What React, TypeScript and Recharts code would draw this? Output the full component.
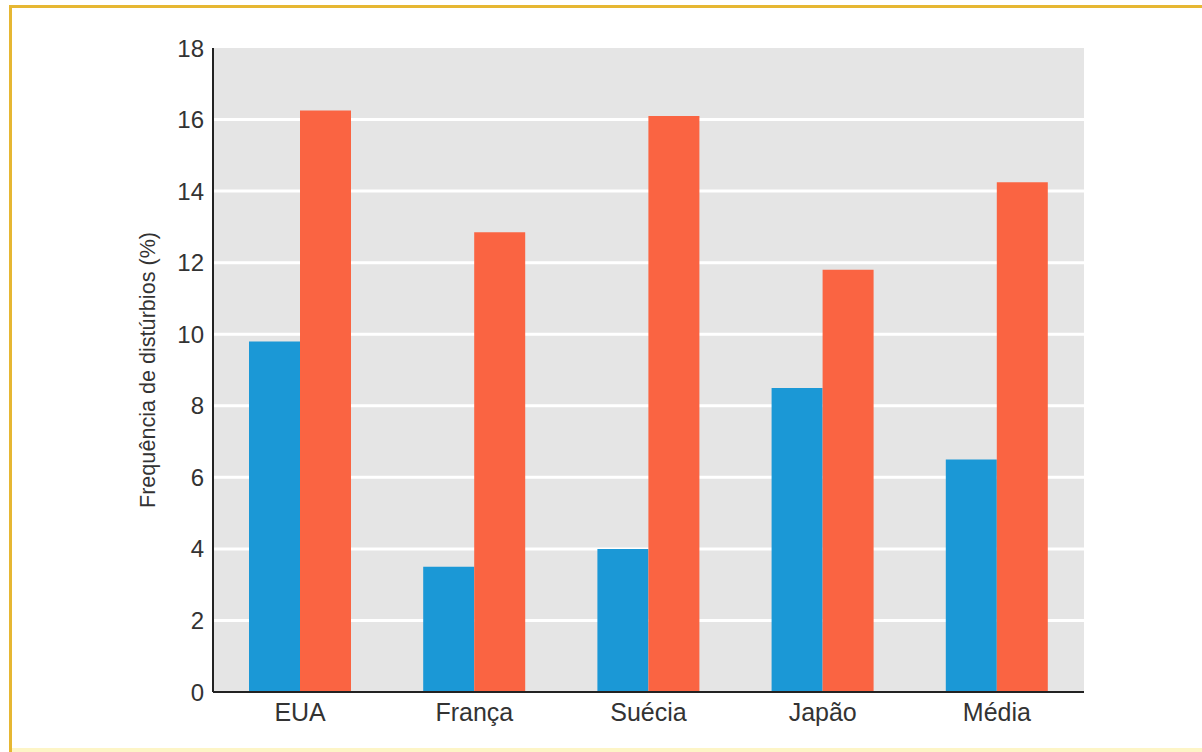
import React from 'react';
import { BarChart, Bar, XAxis, YAxis, CartesianGrid, Label } from 'recharts';

const categories = ['EUA', 'França', 'Suécia', 'Japão', 'Média'];
const seriesBlue = [9.8, 3.5, 4.0, 8.5, 6.5];
const seriesRed = [16.25, 12.85, 16.1, 11.8, 14.25];
const yTicks = [0, 2, 4, 6, 8, 10, 12, 14, 16, 18];
const gridValues = [2, 4, 6, 8, 10, 12, 14, 16];
const yLabel = 'Frequência de distúrbios (%)';

const data = categories.map((c, i) => ({ name: c, blue: seriesBlue[i], red: seriesRed[i] }));

const FONT = '"Liberation Sans", Arial, Helvetica, sans-serif';

export default function App() {
  return (
    <div style={{ position: 'absolute', left: 0, top: 0, width: 1202, height: 752, background: '#fff', overflow: 'hidden' }}>
      <div style={{ position: 'absolute', left: 9, top: 5, width: 1193, height: 3, background: '#e6b733' }} />
      <div style={{ position: 'absolute', left: 9, top: 5, width: 3, height: 747, background: '#e6b733' }} />
      <div style={{ position: 'absolute', left: 12, top: 748, width: 1190, height: 4, background: '#fdf5c6' }} />
      <div style={{ position: 'absolute', left: 0, top: 0 }}>
        <BarChart
          width={1202}
          height={752}
          data={data}
          margin={{ top: 48, right: 118, bottom: 20, left: 0 }}
          barCategoryGap={36}
          barGap={0}
        >
          <CartesianGrid
            vertical={false}
            fill="#e5e5e5"
            fillOpacity={1}
            stroke="#ffffff"
            strokeWidth={3}
            horizontalValues={gridValues}
          />
          <XAxis
            dataKey="name"
            height={40}
            axisLine={{ stroke: '#222', strokeWidth: 2 }}
            tickLine={false}
            tickMargin={5}
            tick={{ fill: '#333', fontSize: 25, fontFamily: FONT }}
          />
          <YAxis
            width={213}
            domain={[0, 18]}
            ticks={yTicks}
            interval={0}
            axisLine={{ stroke: '#222', strokeWidth: 2 }}
            tickLine={false}
            tickMargin={3}
            tick={{ fill: '#333', fontSize: 24, fontFamily: FONT }}
          >
            <Label
              value={yLabel}
              angle={-90}
              position="center"
              dx={41}
              style={{ fill: '#333', fontSize: 21.6, fontFamily: FONT, textAnchor: 'middle' }}
            />
          </YAxis>
          <Bar dataKey="blue" fill="#1b98d6" isAnimationActive={false} />
          <Bar dataKey="red" fill="#fa6442" isAnimationActive={false} />
        </BarChart>
      </div>
    </div>
  );
}
